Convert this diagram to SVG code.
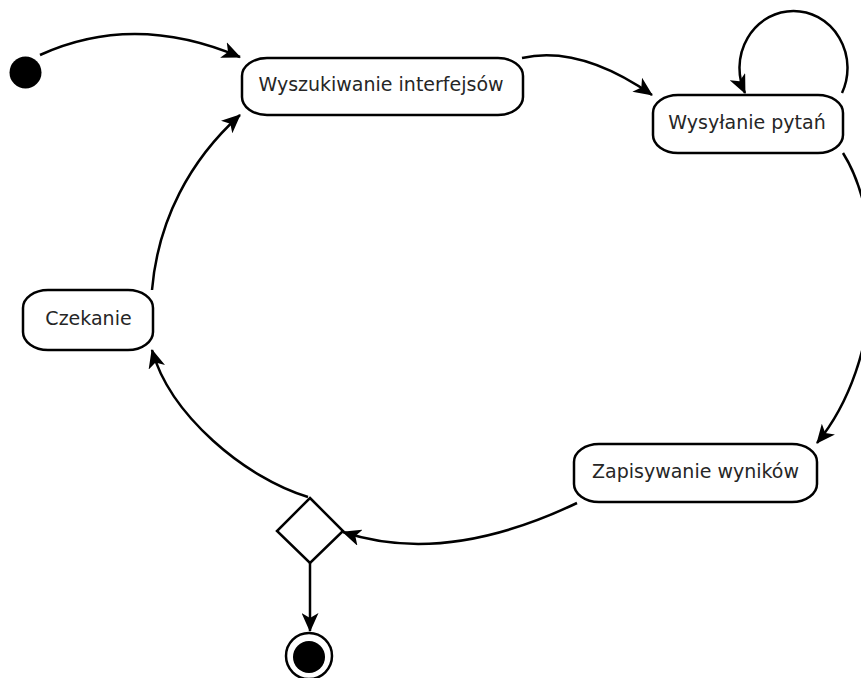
<svg xmlns="http://www.w3.org/2000/svg" width="861" height="678" viewBox="0 0 861 678">
  <style>
    .state { fill: #ffffff; stroke: #000000; stroke-width: 2.5; }
    .label { font-family: "DejaVu Sans", sans-serif; font-size: 19px; fill: #262626; text-anchor: middle; }
    .edge { fill: none; stroke: #000000; stroke-width: 2.5; marker-end: url(#arrow); }
  </style>
  <defs>
    <marker id="arrow" markerUnits="userSpaceOnUse" markerWidth="19" markerHeight="17" viewBox="0 -8.5 19 17" refX="18" refY="0" orient="auto">
      <path d="M0,-8.5 L19,0 L0,8.5 L5,0 z" fill="#000000"/>
    </marker>
  </defs>
  <rect width="861" height="678" fill="#ffffff"/>

  <!-- transitions -->
  <g id="connectors">
    <path class="edge" d="M40,55 Q134,12 240,57"/>
    <path class="edge" d="M522,58 Q580,45 652,95"/>
    <path class="edge" d="M842,93 A54,57 0 1 0 745,93"/>
    <path class="edge" d="M843,153 C885,220 885,360 817,443"/>
    <path class="edge" d="M577,503 Q445,566 343,532"/>
    <path class="edge" d="M308,497 C245,478 170,415 152,350"/>
    <path class="edge" d="M152,290 C158,220 190,160 240,115"/>
    <path class="edge" d="M310,563 L310,631"/>
  </g>

  <g id="start">
    <circle cx="25.5" cy="72.5" r="16" fill="#000000"/>
  </g>

  <g id="wyszukiwanie">
    <rect class="state" x="242" y="58" width="281" height="57" rx="25" ry="18"/>
    <text class="label" x="381" y="91">Wyszukiwanie interfejsów</text>
  </g>

  <g id="wysylanie">
    <rect class="state" x="653" y="95" width="190" height="58" rx="25" ry="18"/>
    <text class="label" x="747" y="129">Wysyłanie pytań</text>
  </g>

  <g id="zapisywanie">
    <rect class="state" x="574" y="444" width="243" height="58" rx="25" ry="18"/>
    <text class="label" x="695.5" y="478">Zapisywanie wyników</text>
  </g>

  <g id="czekanie">
    <rect class="state" x="23" y="290" width="130" height="60" rx="25" ry="18"/>
    <text class="label" x="88.5" y="325">Czekanie</text>
  </g>

  <g id="decision">
    <polygon class="state" points="310,498 343,531 310,563 277,531"/>
  </g>

  <g id="end">
    <circle cx="309" cy="656" r="23" fill="#ffffff" stroke="#000000" stroke-width="2.5"/>
    <circle cx="309" cy="657" r="16" fill="#000000"/>
  </g>
</svg>
